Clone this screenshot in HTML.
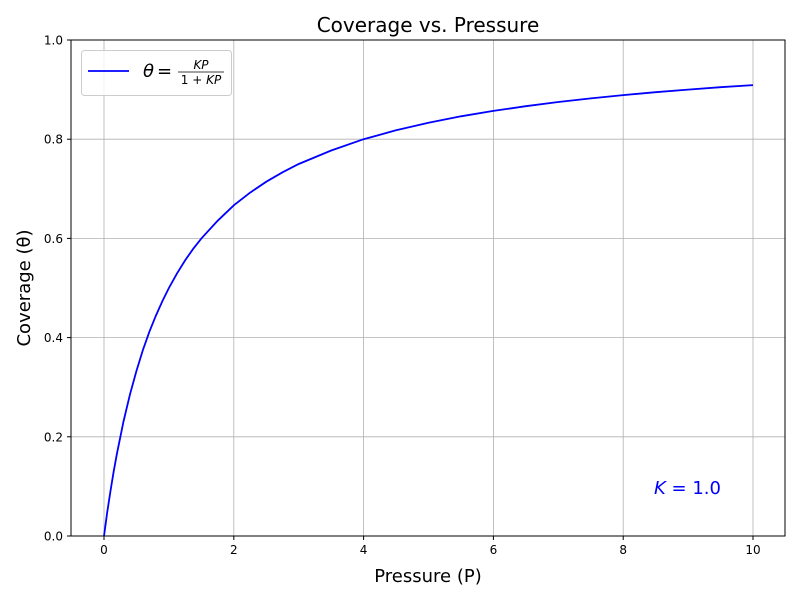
<!DOCTYPE html>
<html><head><meta charset="utf-8"><style>body{margin:0;background:#fff}svg{display:block;font-family:"DejaVu Sans","Liberation Sans",sans-serif}</style></head><body>
<svg width="800" height="600" xmlns="http://www.w3.org/2000/svg">
<rect width="800" height="600" fill="#fff"/>
<g stroke="#b0b0b0" stroke-width="0.8">
<line x1="104" y1="40" x2="104" y2="536"/><line x1="233.8" y1="40" x2="233.8" y2="536"/><line x1="363.6" y1="40" x2="363.6" y2="536"/><line x1="493.4" y1="40" x2="493.4" y2="536"/><line x1="623.2" y1="40" x2="623.2" y2="536"/><line x1="753" y1="40" x2="753" y2="536"/>
<line x1="71" y1="536" x2="785" y2="536"/><line x1="71" y1="436.8" x2="785" y2="436.8"/><line x1="71" y1="337.6" x2="785" y2="337.6"/><line x1="71" y1="238.4" x2="785" y2="238.4"/><line x1="71" y1="139.2" x2="785" y2="139.2"/><line x1="71" y1="40" x2="785" y2="40"/>
</g>
<polyline fill="none" stroke="#0000ff" stroke-width="1.8" points="104,536 107.2,512.4 110.5,490.9 113.7,471.3 117,453.3 123.5,421.5 130,394.3 136.5,370.7 142.9,350 149.4,331.7 155.9,315.6 162.4,301.1 168.9,288 177,273.4 185.1,260.4 193.2,248.8 201.4,238.4 217.6,220.8 233.8,205.3 250,192.7 266.3,181.7 282.5,172.3 298.7,164 331.2,150.5 363.6,139.2 396,130.3 428.5,122.7 461,116.3 493.4,110.9 525.8,106.2 558.3,102 590.8,98.4 623.2,95.1 655.6,92.2 688.1,89.6 720.5,87.2 753,85.1"/>
<rect x="71" y="40" width="714" height="496" fill="none" stroke="#000" stroke-width="1"/>
<g stroke="#000" stroke-width="1">
<line x1="104" y1="536" x2="104" y2="540"/><line x1="233.8" y1="536" x2="233.8" y2="540"/><line x1="363.6" y1="536" x2="363.6" y2="540"/><line x1="493.4" y1="536" x2="493.4" y2="540"/><line x1="623.2" y1="536" x2="623.2" y2="540"/><line x1="753" y1="536" x2="753" y2="540"/>
<line x1="67" y1="536" x2="71" y2="536"/><line x1="67" y1="436.8" x2="71" y2="436.8"/><line x1="67" y1="337.6" x2="71" y2="337.6"/><line x1="67" y1="238.4" x2="71" y2="238.4"/><line x1="67" y1="139.2" x2="71" y2="139.2"/><line x1="67" y1="40" x2="71" y2="40"/>
</g>
<g font-size="12" text-anchor="middle">
<text x="104" y="554">0</text><text x="233.8" y="554">2</text><text x="363.6" y="554">4</text><text x="493.4" y="554">6</text><text x="623.2" y="554">8</text><text x="753" y="554">10</text>
</g>
<g font-size="12" text-anchor="end">
<text x="63" y="540.5">0.0</text><text x="63" y="441.3">0.2</text><text x="63" y="342.1">0.4</text><text x="63" y="242.9">0.6</text><text x="63" y="143.7">0.8</text><text x="63" y="44.5">1.0</text>
</g>
<text x="428" y="582" font-size="18" text-anchor="middle">Pressure (P)</text>
<text transform="translate(30,288) rotate(-90)" font-size="18" text-anchor="middle">Coverage (θ)</text>
<text x="428" y="32" font-size="20" text-anchor="middle">Coverage vs. Pressure</text>
<text x="654" y="494" font-size="18" fill="#0000ff"><tspan font-style="italic">K</tspan> = 1.0</text>
<rect x="81.5" y="50.5" width="150" height="45" rx="3" fill="#fff" fill-opacity="0.8" stroke="#ccc"/>
<line x1="88" y1="71" x2="129" y2="71" stroke="#0000ff" stroke-width="1.8"/>
<text x="143" y="77" font-size="18" font-style="italic">θ</text>
<text x="157" y="77" font-size="18">=</text>
<text x="201" y="69" font-size="12" font-style="italic" text-anchor="middle">KP</text>
<line x1="178" y1="72" x2="224" y2="72" stroke="#000" stroke-width="0.8"/>
<text x="201" y="84" font-size="12" text-anchor="middle">1 + <tspan font-style="italic">KP</tspan></text>
</svg>
</body></html>
